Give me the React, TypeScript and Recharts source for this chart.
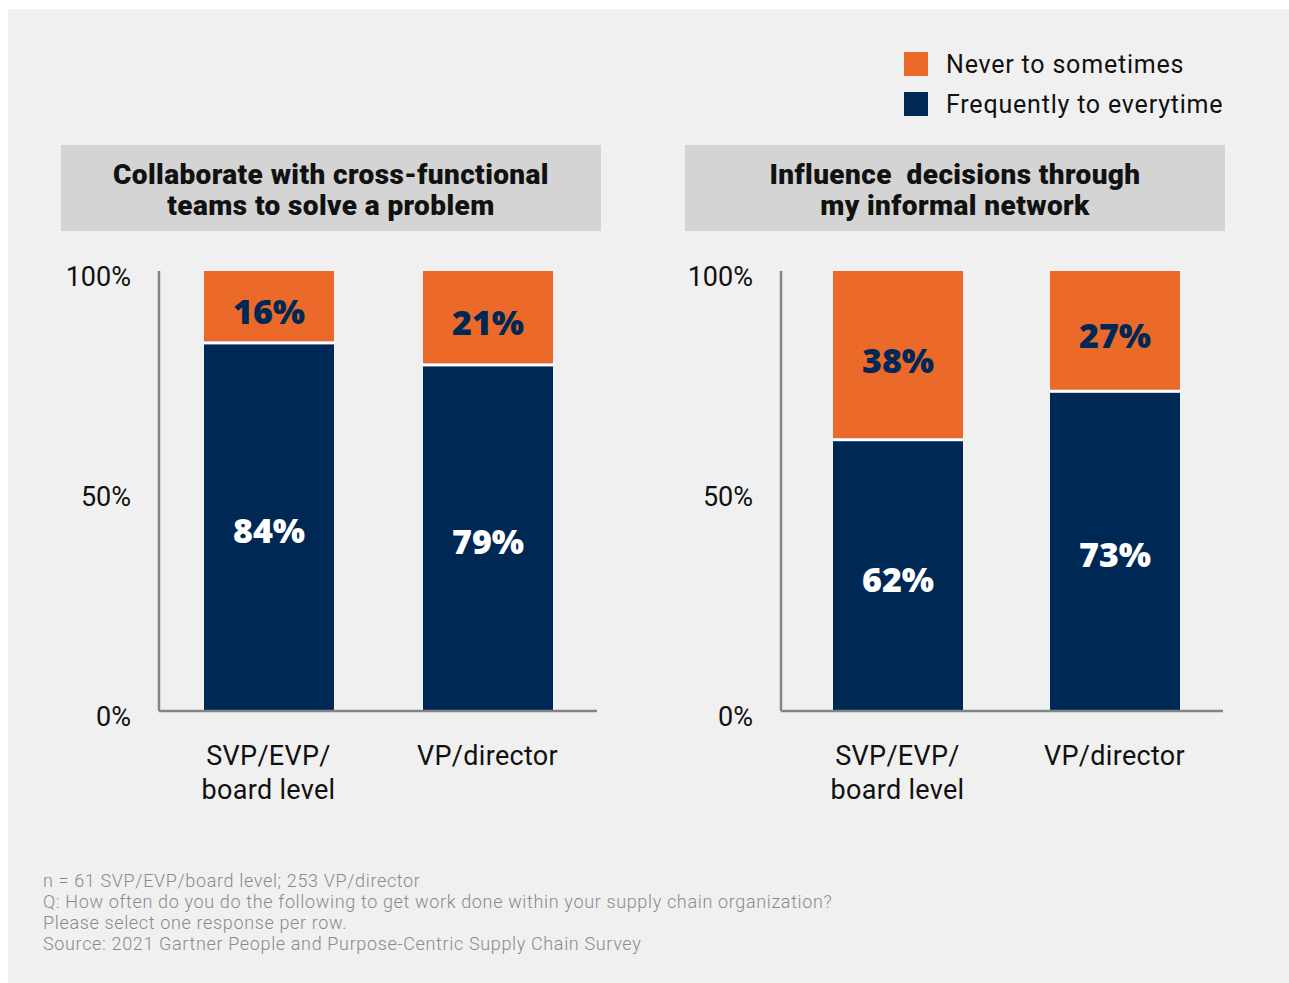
import React from 'react';
import { BarChart, Bar, XAxis, YAxis, LabelList } from 'recharts';

const categories = ['SVP/EVP/\nboard level', 'VP/director'];
const collabFrequent = [84, 79];
const collabNever = [16, 21];
const influenceFrequent = [62, 73];
const influenceNever = [38, 27];
const yTicks = [0, 50, 100];
const seriesNames = ['Never to sometimes', 'Frequently to everytime'];
const chartTitles = [
  ['Collaborate with cross-functional', 'teams to solve a problem'],
  ['Influence  decisions through', 'my informal network'],
];
const footnotes = [
  'n = 61 SVP/EVP/board level; 253 VP/director',
  'Q: How often do you do the following to get work done within your supply chain organization?',
  'Please select one response per row.',
  'Source: 2021 Gartner People and Purpose-Centric Supply Chain Survey',
];

const ORANGE = '#EC6A29';
const NAVY = '#002855';
const AXIS = '#7f8585';
const FONT = 'Roboto, "Noto Sans", sans-serif';
const LABEL_FONT = '"Open Sans", Roboto, sans-serif';

const buildData = (freq: number[], never: number[]) =>
  categories.map((c, i) => ({ name: c, frequent: freq[i], never: never[i] }));

const collabData = buildData(collabFrequent, collabNever);
const influenceData = buildData(influenceFrequent, influenceNever);

const OrangeShape = (props: any) => {
  const { x, y, width, height } = props;
  return (
    <g>
      <rect x={x} y={y} width={width} height={height} fill={ORANGE} />
      <rect x={x} y={y + height} width={width} height={3} fill="#ffffff" />
    </g>
  );
};

const makeLabel = (color: string, shift: number) => (props: any) => {
  const { x, y, width, height, value } = props;
  return (
    <text
      x={x + width / 2}
      y={y + height / 2 + shift}
      textAnchor="middle"
      dominantBaseline="central"
      fill={color}
      fontFamily={LABEL_FONT}
      fontWeight={800}
      fontSize={34}
    >
      {`${value}%`}
    </text>
  );
};

const CategoryTick = (props: any) => {
  const { x, y, payload } = props;
  const lines = String(payload.value).split('\n');
  return (
    <text x={x} y={y} textAnchor="middle" fill="#111" fontFamily={FONT} fontSize={27} letterSpacing={0.3}>
      {lines.map((l, i) => (
        <tspan key={i} x={x} dy={i === 0 ? 54 : 34}>
          {l}
        </tspan>
      ))}
    </text>
  );
};

const Panel = ({ data, left, padLeft, right }: { data: any[]; left: number; padLeft: number; right: number }) => (
  <div style={{ position: 'absolute', left, top: 0 }}>
    <BarChart width={620} height={830} data={data} margin={{ top: 271, right, left: 0, bottom: 0 }}>
      <XAxis
        dataKey="name"
        height={119}
        tickLine={false}
        axisLine={{ stroke: AXIS, strokeWidth: 2.5 }}
        tick={<CategoryTick />}
        tickSize={0}
        tickMargin={0}
        interval={0}
        padding={{ left: padLeft, right: 0 }}
      />
      <YAxis
        width={159}
        domain={[0, 100]}
        ticks={yTicks}
        tickFormatter={(v: number) => `${v}%`}
        tickLine={false}
        tickSize={0}
        tickMargin={28}
        axisLine={{ stroke: AXIS, strokeWidth: 2.5 }}
        tick={{ fill: '#111', fontSize: 27, fontFamily: FONT, dy: 5 }}
      />
      <Bar dataKey="frequent" stackId="a" fill={NAVY} barSize={130} isAnimationActive={false}>
        <LabelList dataKey="frequent" content={makeLabel('#ffffff', 4)} />
      </Bar>
      <Bar dataKey="never" stackId="a" fill={ORANGE} barSize={130} shape={<OrangeShape />} isAnimationActive={false}>
        <LabelList dataKey="never" content={makeLabel(NAVY, 5)} />
      </Bar>
    </BarChart>
  </div>
);

const TitleBox = ({ lines, left }: { lines: string[]; left: number }) => (
  <div
    style={{
      position: 'absolute',
      left,
      top: 145,
      width: 540,
      height: 86,
      background: '#d4d4d4',
      display: 'flex',
      flexDirection: 'column',
      alignItems: 'center',
      justifyContent: 'center',
      fontFamily: FONT,
      fontWeight: 900,
      fontSize: 28,
      lineHeight: '31px',
      color: '#111',
      letterSpacing: 0.4,
      paddingTop: 4,
      boxSizing: 'border-box',
      whiteSpace: 'pre',
    }}
  >
    {lines.map((l, i) => (
      <div key={i}>{l}</div>
    ))}
  </div>
);

export default function App() {
  return (
    <div style={{ position: 'absolute', left: 0, top: 0, width: 1289, height: 983, background: '#ffffff', overflow: 'hidden' }}>
      <div style={{ position: 'absolute', left: 8, top: 9, width: 1281, height: 974, background: '#f0f0f0' }} />
      {/* legend */}
      {seriesNames.map((n, i) => (
        <div key={n} style={{ position: 'absolute', left: 904, top: 52 + i * 40, height: 24, display: 'flex', alignItems: 'center' }}>
          <div style={{ width: 24, height: 24, background: i === 0 ? ORANGE : NAVY }} />
          <div style={{ marginLeft: 18, fontFamily: FONT, fontSize: 25, letterSpacing: 0.8, color: '#111', whiteSpace: 'nowrap' }}>{n}</div>
        </div>
      ))}
      <TitleBox lines={chartTitles[0]} left={61} />
      <TitleBox lines={chartTitles[1]} left={685} />
      <Panel data={collabData} left={0} padLeft={0} right={23} />
      <Panel data={influenceData} left={622} padLeft={8} right={19} />
      <div
        style={{
          position: 'absolute',
          left: 43,
          top: 870,
          fontFamily: FONT,
          fontWeight: 300,
          fontSize: 18,
          letterSpacing: 0.65,
          lineHeight: '21px',
          color: '#8a8a8a',
          whiteSpace: 'nowrap',
        }}
      >
        {footnotes.map((f, i) => (
          <div key={i}>{f}</div>
        ))}
      </div>
    </div>
  );
}
